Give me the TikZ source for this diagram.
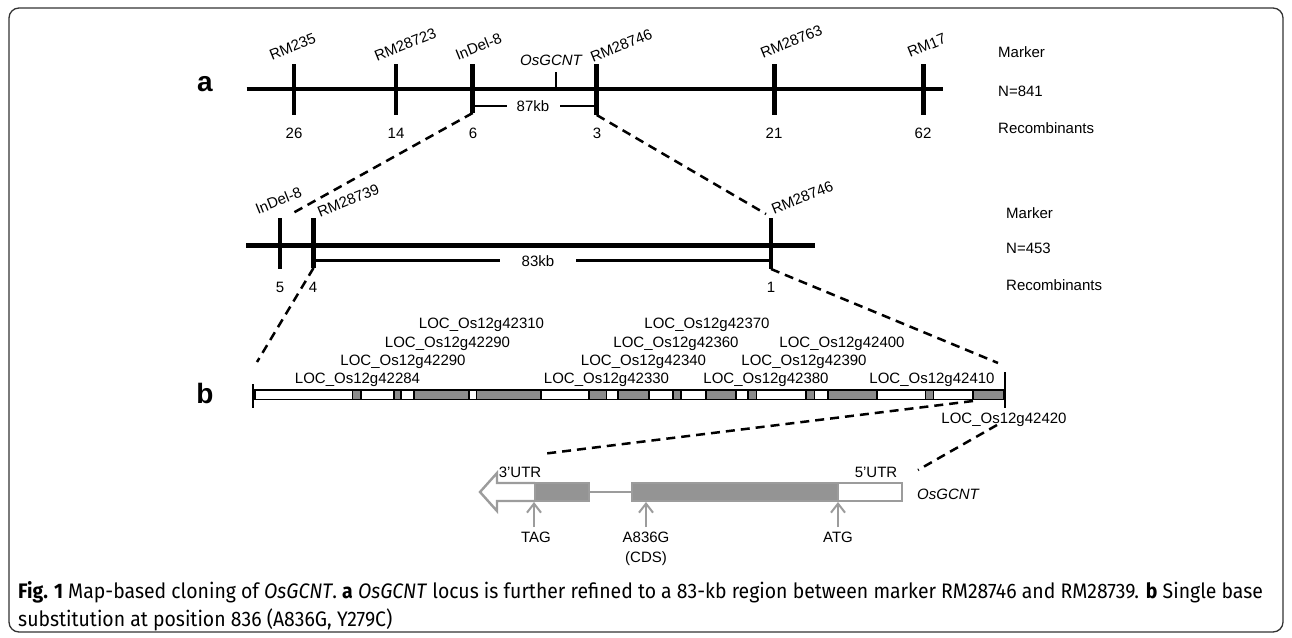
\documentclass[tikz,border=0pt]{standalone}
\usepackage{fontspec}
\setmainfont{Liberation Sans}
\newfontfamily\capfont[FakeStretch=0.925]{Fira Sans}
\usetikzlibrary{arrows.meta}
\definecolor{segGray}{HTML}{8C8C8C}
\definecolor{geneGray}{HTML}{949494}
\definecolor{geneLine}{HTML}{9C9C9C}
\definecolor{frameCol}{HTML}{333333}
\begin{document}
\begin{tikzpicture}[x=1pt,y=-1pt,
  lbl/.style={font=\fontsize{15}{18}\selectfont, inner sep=0pt, text height=10.8pt, text depth=0pt},
  rlbl/.style={font=\fontsize{15}{18}\selectfont, inner sep=0pt, rotate=22, anchor=south west},
  panel/.style={font=\bfseries\fontsize{28}{30}\selectfont, inner sep=0pt},
  mapline/.style={line width=4.5pt},
  tickline/.style={line width=4.8pt},
  bracketline/.style={line width=2.5pt},
  zoomdash/.style={line width=2.5pt, dash pattern=on 9pt off 6pt},
  segbox/.style={draw=black, line width=1.6pt},
  geneout/.style={draw=geneLine, line width=2.4pt},
  genearrow/.style={draw=geneLine, line width=2pt, -{Straight Barb[length=9pt,width=14pt,line width=2pt]}},
  capline/.style={font=\capfont\fontsize{21}{28}\selectfont, inner sep=0pt, anchor=base west}
]
\useasboundingbox (0,0) rectangle (1292,637);
\draw[frameCol, line width=1.3pt, rounded corners=10pt] (9,8) rectangle (1283,632);

% ---------------- panel a, top map ----------------
\node[panel] (pa) at (205,84) {a};
\coordinate (aL) at (246.7,89);
\coordinate (aR) at (942.7,89);
\draw[mapline] (aL) -- (aR);
\coordinate (t1top) at (294,64);   \coordinate (t1bot) at (294,115);
\coordinate (t2top) at (396,64);   \coordinate (t2bot) at (396,115);
\coordinate (t3top) at (472.7,64); \coordinate (t3bot) at (472.7,113);
\coordinate (t4top) at (596.7,64); \coordinate (t4bot) at (596.7,115);
\coordinate (t5top) at (774.3,64); \coordinate (t5bot) at (774.3,115);
\coordinate (t6top) at (923.3,64); \coordinate (t6bot) at (923.3,115);
\foreach \i in {1,...,6} {\draw[tickline] (t\i top) -- (t\i bot);}
\coordinate (gtop) at (556,72); \coordinate (gbot) at (556,89);
\draw[line width=2.6pt] (gtop) -- (gbot);
\node[lbl, font=\itshape\fontsize{15}{18}\selectfont] (gname) at (551,60) {OsGCNT};
% bracket 87kb
\node[lbl] (kb87) at (533,106) {87kb};
\coordinate (b87L) at (472.7,106); \coordinate (b87R) at (596.7,106);
\draw[bracketline] (b87L) -- (507,106);
\draw[bracketline] (560,106) -- (b87R);
% marker names
\node[rlbl] (m1) at (272,61) {RM235};
\node[rlbl] (m2) at (377,62) {RM28723};
\node[rlbl] (m3) at (458,61) {InDel-8};
\node[rlbl] (m4) at (593,63) {RM28746};
\node[rlbl] (m5) at (763,59) {RM28763};
\node[rlbl] (m6) at (910,58) {RM17};
% recombinants
\node[lbl] (r1) at (294,133) {26};
\node[lbl] (r2) at (396,133) {14};
\node[lbl] (r3) at (473,133) {6};
\node[lbl] (r4) at (597,133) {3};
\node[lbl] (r5) at (774,133) {21};
\node[lbl] (r6) at (923,133) {62};
\node[lbl, anchor=west] (ka) at (998,52) {Marker};
\node[lbl, anchor=west] (kb) at (998,91) {N=841};
\node[lbl, anchor=west] (kc) at (998,128) {Recombinants};

% ---------------- middle map ----------------
\coordinate (mL) at (246,245.5);
\coordinate (mR) at (815,245.5);
\draw[mapline] (mL) -- (mR);
\coordinate (u1top) at (280,218); \coordinate (u1bot) at (280,269);
\coordinate (u2top) at (313.5,218); \coordinate (u2bot) at (313.5,268);
\coordinate (u3top) at (771,218); \coordinate (u3bot) at (771,269);
\foreach \i in {1,2,3} {\draw[tickline] (u\i top) -- (u\i bot);}
\node[lbl] (kb83) at (538,261) {83kb};
\draw[bracketline] (313.5,260.5) -- (500,260.5);
\draw[bracketline] (576,260.5) -- (771,260.5);
\node[rlbl] (n1) at (258,215) {InDel-8};
\node[rlbl] (n2) at (320,218) {RM28739};
\node[rlbl] (n3) at (774,215) {RM28746};
\node[lbl] (s1) at (280,287) {5};
\node[lbl] (s2) at (313,287) {4};
\node[lbl] (s3) at (771,287) {1};
\node[lbl, anchor=west] (la) at (1006,213) {Marker};
\node[lbl, anchor=west] (lb) at (1006,248) {N=453};
\node[lbl, anchor=west] (lc) at (1006,285) {Recombinants};

% zoom dashes a -> middle
\coordinate (z1) at (293,213);
\coordinate (z2) at (766,214);
\draw[zoomdash] (t3bot) -- (z1);
\draw[zoomdash] (t4bot) -- (z2);

% ---------------- panel b bar ----------------
\node[panel] (pb) at (205,393) {b};
\foreach \a/\b/\c in {255/352.5/white, 352.5/361/segGray, 361/394/white, 394/401/segGray,
  401/414/white, 414/469/segGray, 469/476.5/white, 476.5/541/segGray, 541/589/white,
  589/606.5/segGray, 606.5/618/white, 618/649/segGray, 649/673/white, 673/681/segGray,
  681/706/white, 706/736/segGray, 736/748/white, 748/756.5/segGray, 756.5/806/white,
  806/814.5/segGray, 814.5/828/white, 828/877/segGray, 877/925.5/white,
  925.5/933.5/segGray, 933.5/973/white, 973/1004/segGray}
  {\filldraw[segbox, fill=\c] (\a,390) rectangle (\b,399.5);}
\coordinate (bLtop) at (253,384); \coordinate (bLbot) at (253,408);
\coordinate (bRtop) at (1005,372); \coordinate (bRbot) at (1005,408);
\draw[line width=2.6pt] (bLtop) -- (bLbot);
\draw[line width=2.6pt] (bRtop) -- (bRbot);
% zoom dashes middle -> b
\coordinate (y1) at (257,362);
\coordinate (y2) at (998,363);
\draw[zoomdash] (u2bot) -- (y1);
\draw[zoomdash] (u3bot) -- (y2);
% LOC labels
\node[lbl] (c1) at (481.5,323) {LOC\_Os12g42310};
\node[lbl] (c2) at (447.5,342) {LOC\_Os12g42290};
\node[lbl] (c3) at (403,360) {LOC\_Os12g42290};
\node[lbl] (c4) at (357.5,378) {LOC\_Os12g42284};
\node[lbl] (c5) at (606.5,378) {LOC\_Os12g42330};
\node[lbl] (c6) at (643.5,360) {LOC\_Os12g42340};
\node[lbl] (c7) at (676,342) {LOC\_Os12g42360};
\node[lbl] (c8) at (707,323) {LOC\_Os12g42370};
\node[lbl] (c9) at (842,342) {LOC\_Os12g42400};
\node[lbl] (c10) at (804,360) {LOC\_Os12g42390};
\node[lbl] (c11) at (766,378) {LOC\_Os12g42380};
\node[lbl] (c12) at (932,378) {LOC\_Os12g42410};
\node[lbl] (c13) at (1004,418) {LOC\_Os12g42420};

% ---------------- gene structure ----------------
\coordinate (x1) at (973,401);
\coordinate (x2) at (542,454);
\coordinate (x3) at (997,425);
\coordinate (x4) at (918,470);
\draw[zoomdash] (x1) -- (x2);
\draw[zoomdash] (x3) -- (x4);
\filldraw[geneout, fill=white, line join=miter] (535,483) -- (497,483) -- (497,473) -- (480,492)
   -- (497,511) -- (497,501) -- (535,501);
\draw[geneout] (589,492) -- (632,492);
\filldraw[geneout, fill=geneGray] (535,483) rectangle (589,501);
\filldraw[geneout, fill=geneGray] (632,483) rectangle (838,501);
\filldraw[geneout, fill=white] (838,483) rectangle (902,501);
\node[lbl] (utr3) at (520,472) {3'UTR};
\node[lbl] (utr5) at (876,472) {5'UTR};
\node[lbl, anchor=west, font=\itshape\fontsize{15}{18}\selectfont] (gname2) at (917,494) {OsGCNT};
\node[lbl] (tag) at (536,537) {TAG};
\node[lbl] (mut) at (646,537) {A836G};
\node[lbl] (cds) at (646,557) {(CDS)};
\node[lbl] (atg) at (838,537) {ATG};
\coordinate (a1) at (534,502); \coordinate (a2) at (646,502); \coordinate (a3) at (838,502);
\draw[genearrow] (a1 |- 0,527) -- (a1);
\draw[genearrow] (a2 |- 0,527) -- (a2);
\draw[genearrow] (a3 |- 0,527) -- (a3);

% ---------------- caption ----------------
\node[capline] (cap1) at (18,598) {\textbf{Fig. 1} Map-based cloning of \textit{OsGCNT}. \textbf{a} \textit{OsGCNT} locus is further refined to a 83-kb region between marker RM28746 and RM28739. \textbf{b} Single base};
\node[capline] (cap2) at (18,626) {substitution at position 836 (A836G, Y279C)};
\end{tikzpicture}
\end{document}
